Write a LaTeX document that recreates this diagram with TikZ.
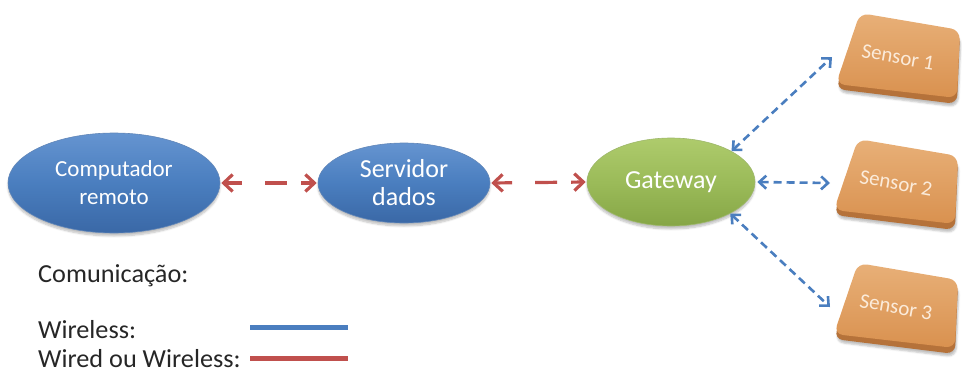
\documentclass[tikz,border=0pt]{standalone}
\usepackage{fontspec}
\setmainfont{Carlito}
\usetikzlibrary{arrows.meta,shapes.geometric,shadows.blur,calc}

\definecolor{nodeblue}{HTML}{4A7EBF}
\definecolor{nodebluelight}{HTML}{6594D0}
\definecolor{nodebluedark}{HTML}{3A68A6}
\definecolor{gwgreen}{HTML}{9BBB59}
\definecolor{gwlight}{HTML}{AECB6C}
\definecolor{gwdark}{HTML}{86A646}
\definecolor{sensface}{HTML}{D9914F}
\definecolor{senslight}{HTML}{E8B078}
\definecolor{sensedge}{HTML}{B5723A}
\definecolor{senstext}{HTML}{FBEBDA}
\definecolor{linkblue}{HTML}{4A7EBF}
\definecolor{linkred}{HTML}{C0504D}
\definecolor{legendtext}{HTML}{262626}

\tikzset{
  bubble/.style={ellipse, inner sep=0pt, text=white, align=center,
    blur shadow={shadow blur steps=6, shadow xshift=0pt, shadow yshift=-3pt, shadow opacity=25}},
  bluebubble/.style={bubble, top color=nodebluelight, bottom color=nodebluedark,
    middle color=nodeblue, draw=nodebluedark!80, line width=0.6pt},
  greenbubble/.style={bubble, top color=gwlight, bottom color=gwdark,
    middle color=gwgreen, draw=gwdark!80, line width=0.6pt},
  wiredlink/.style={draw=linkred, line width=3.2pt,
    dash pattern=on 17pt off 23pt on 22pt off 14pt on 40pt off 1pt,
    {Straight Barb[length=9pt,width=17pt]}-{Straight Barb[length=9pt,width=17pt]}},
  wirelesslink/.style={draw=linkblue, line width=2.6pt,
    dash pattern=on 8pt off 5pt,
    {Straight Barb[length=7pt,width=13pt]}-{Straight Barb[length=7pt,width=13pt]}},
  sensorlabel/.style={text=senstext, font=\fontsize{21}{24}\selectfont,
    inner sep=0pt, rotate=-10},
  legendlabel/.style={anchor=base west, text=legendtext,
    font=\fontsize{26}{30}\selectfont\addfontfeature{FakeStretch=1.01}, inner sep=0pt},
  legendline/.style={line width=5pt},
}

% a sensor plate: thick bevelled tile seen in perspective, with its label
\newcommand\sensortile[4]{%
  \fill[sensedge, rounded corners=9pt, blur shadow={shadow xshift=1pt, shadow yshift=-3pt, shadow opacity=25}]
    ($(#2,#3)+(-39,-41)$) -- ($(#2,#3)+(61,-24)$) -- ($(#2,#3)+(58,47)$) -- ($(#2,#3)+(-63,32)$) -- cycle;
  \shade[rounded corners=9pt, top color=senslight, bottom color=sensface]
    ($(#2,#3)+(-39,-44)$) -- ($(#2,#3)+(61,-27)$) -- ($(#2,#3)+(58,41)$) -- ($(#2,#3)+(-63,27)$) -- cycle;
  \node[sensorlabel] (#1) at (#2-1,#3) {#4};
  \coordinate (#1-in) at (#2-67,#3);
}

\begin{document}
\begin{tikzpicture}[x=1pt,y=-1pt]
  \useasboundingbox (0,0) rectangle (962,372);

  % main chain
  \node[bluebubble, minimum width=212pt, minimum height=100pt,
        font=\fontsize{23}{28}\selectfont] (comp) at (114,183) {Computador\\remoto};
  \node[bluebubble, minimum width=172pt, minimum height=80pt,
        font=\fontsize{26}{28}\selectfont] (serv) at (404,183) {Servidor\\dados};
  \node[greenbubble, minimum width=168pt, minimum height=88pt,
        font=\fontsize{26}{30}\selectfont] (gw) at (671,182) {Gateway};

  % sensors
  \sensortile{s1}{899}{57}{Sensor 1}
  \sensortile{s2}{897}{183}{Sensor 2}
  \sensortile{s3}{897}{307}{Sensor 3}

  % links
  \draw[wiredlink, shorten <=1pt, shorten >=1pt] (comp.east) -- (serv.west);
  \draw[wiredlink, shorten <=1pt, shorten >=1pt] (serv.east) -- (gw.west);
  \draw[wirelesslink] (gw.27) -- (s1-in);
  \draw[wirelesslink, shorten <=2pt] (gw.east) -- (s2-in);
  \draw[wirelesslink] (gw.-28) -- (s3-in);

  % legend
  \node[legendlabel] (leghead) at (38,282) {Comunicação:};
  \node[legendlabel] (legwl) at (38,338) {Wireless:};
  \node[legendlabel, text depth=0pt] (legwd) at (38,367) {Wired ou Wireless:};
  \coordinate (wlA) at (250,327);
  \coordinate (wlB) at (348,327);
  \coordinate (wdA) at (250,358);
  \coordinate (wdB) at (348,358);
  \draw[legendline, linkblue] (wlA) -- (wlB);
  \draw[legendline, linkred] (wdA) -- (wdB);
\end{tikzpicture}
\end{document}
